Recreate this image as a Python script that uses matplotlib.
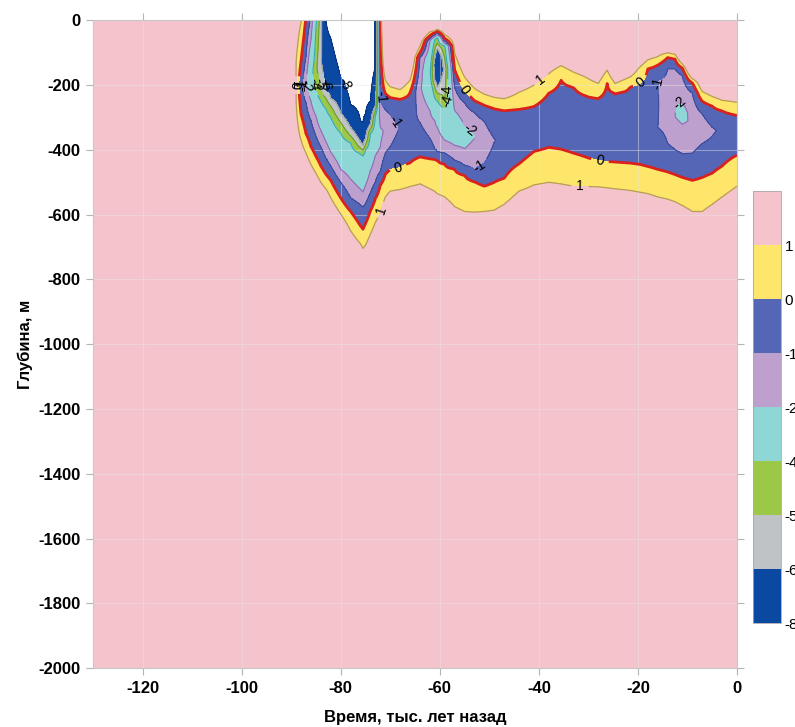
import numpy as np
import matplotlib.pyplot as plt

plt.rcParams['font.family'] = ['Liberation Sans', 'DejaVu Sans']
plt.rcParams['axes.unicode_minus'] = False

nan = np.nan

# расчётные колонки: время, тыс. лет назад
t_kyr = [-130, -90, -89, -88, -87, -86, -85, -84, -83, -82, -80, -78, -76, -75.5, -75, -74, -73,
         -72, -71, -70, -68, -66, -64, -62, -61, -60.5, -59, -57, -55, -53, -51, -49, -47, -44,
         -41, -38, -35.5, -33, -30, -28, -26.2, -24.6, -21.6, -18, -16, -14, -12.5, -11, -9,
         -7, -5, -3, 0]

# температура на поверхности, °C (2 = талые породы)
t_surf = [2, 2, 2, 1.05, -0.1, -1.2, -3.8, -5.6, -8.0, -9, -10, -10.5, -10.5, -10.5, -10.5, -10, -7.8,
          -0.3, 2, 2, 2, 2, 2, 2, 2, 2, 2, 2, 2, 2, 2, 2, 2, 2,
          2, 2, 2, 2, 2, 2, 2, 2, 2, 2, 2, 2, 2, 2, 2,
          2, 2, 2, 2]

# глубины (м) пересечения изотерм сверху вниз: верхняя граница мерзлоты
up_1 = [nan, nan, 130, nan, nan, nan, nan, nan, nan, nan, nan, nan, nan, nan, nan, nan, nan,
        nan, 185, 205, 214, 185, 80, 36, 32, 28, 45, 100, 175, 210, 228, 238, 242, 222,
        200, 165, 140, 160, 180, 195, 154, 195, 175, 122, 112, 100, 105, 135, 180,
        220, 235, 247, 253]
up_0 = [nan, nan, nan, 125, nan, nan, nan, nan, nan, nan, nan, nan, nan, nan, nan, nan, nan,
        nan, 225, 238, 243, 222, 100, 48, 38, 33, 57, 152, 218, 248, 262, 272, 278, 275,
        266, 225, 185, 207, 236, 241, 195, 226, 206, 150, 138, 115, 120, 147, 193,
        250, 265, 280, 293]
up_m1 = [nan, nan, nan, nan, 110, nan, nan, nan, nan, nan, nan, nan, nan, nan, nan, nan, nan,
         250, 275, 290, nan, nan, 115, 56, 44, 38, 63, 206, 254, 285, 312, nan, nan, nan,
         nan, nan, nan, nan, nan, nan, nan, nan, nan, nan, 185, 150, 150, 172, 225,
         290, nan, nan, nan]
up_m2 = [nan, nan, nan, nan, nan, 60, nan, nan, nan, nan, nan, nan, nan, nan, nan, nan, nan,
         nan, nan, nan, nan, nan, nan, 64, 50, 45, 72, 278, 324, nan, nan, nan, nan, nan,
         nan, nan, nan, nan, nan, nan, nan, nan, nan, nan, nan, nan, 185, nan, nan,
         nan, nan, nan, nan]
up_m4 = [nan, nan, nan, nan, nan, nan, 25, nan, nan, nan, nan, nan, nan, nan, nan, nan, nan,
         nan, nan, nan, nan, nan, nan, nan, 60, 52, 78, nan, nan, nan, nan, nan, nan, nan,
         nan, nan, nan, nan, nan, nan, nan, nan, nan, nan, nan, nan, nan, nan, nan,
         nan, nan, nan, nan]

# ядро мерзлоты: глубина и минимальная температура
core_d = [nan, nan, 190, 205, 200, 170, 150, 130, nan, nan, nan, nan, nan, nan, nan, nan, 150,
          350, 340, 340, 330, 320, 210, 160, 135, 120, 150, 330, 360, 355, 380, 370, 380, 360,
          330, 310, 300, 310, 330, 335, 320, 330, 320, 280, 255, 250, 240, 285, 310,
          335, 340, 340, 355]
core_t = [nan, nan, 0.7, -0.7, -2.05, -3.7, -4.8, -5.9, nan, nan, nan, nan, nan, nan, nan, nan, -7.9,
          -2.25, -1.9, -1.5, -0.95, -0.85, -1.85, -3.8, -6.6, -7.8, -5.8, -3.0, -2.45, -2.1, -1.65, -1.05,
          -0.8, -0.8, -0.8, -0.8, -0.8, -0.8, -0.8, -0.8, -0.8, -0.8, -0.8, -0.85, -0.95, -1.45, -1.95,
          -2.4, -1.9, -1.6, -1.15, -0.8, -0.75, -0.75]

# нижняя граница: глубины изотерм -8 ... 1
lo_m8 = [nan, nan, nan, nan, nan, nan, nan, nan, nan, 55, 175, 260, 310, 316, 290, 250, nan,
         nan, nan, nan, nan, nan, nan, nan, nan, nan, nan, nan, nan, nan, nan, nan, nan, nan,
         nan, nan, nan, nan, nan, nan, nan, nan, nan, nan, nan, nan, nan, nan, nan,
         nan, nan, nan, nan]
lo_m6 = [nan, nan, nan, nan, nan, nan, nan, nan, 220, 240, 285, 330, 375, 386, 365, 320, 265,
         nan, nan, nan, nan, nan, nan, nan, 185, 206, nan, nan, nan, nan, nan, nan, nan, nan,
         nan, nan, nan, nan, nan, nan, nan, nan, nan, nan, nan, nan, nan, nan, nan,
         nan, nan, nan, nan]
lo_m5 = [nan, nan, nan, nan, nan, nan, nan, 215, 240, 265, 315, 357, 395, 401, 385, 335, 280,
         nan, nan, nan, nan, nan, nan, nan, 205, 225, 245, nan, nan, nan, nan, nan, nan, nan,
         nan, nan, nan, nan, nan, nan, nan, nan, nan, nan, nan, nan, nan, nan, nan,
         nan, nan, nan, nan]
lo_m4 = [nan, nan, nan, nan, nan, nan, 220, 250, 273, 300, 348, 378, 412, 417, 400, 350, 295,
         nan, nan, nan, nan, nan, nan, nan, 240, 250, 275, nan, nan, nan, nan, nan, nan, nan,
         nan, nan, nan, nan, nan, nan, nan, nan, nan, nan, nan, nan, nan, nan, nan,
         nan, nan, nan, nan]
lo_m2 = [nan, nan, nan, nan, nan, 250, 295, 340, 374, 407, 460, 490, 522, 530, 510, 463, 417,
         390, nan, nan, nan, nan, nan, 278, 310, 330, 370, 386, 396, nan, nan, nan, nan, nan,
         nan, nan, nan, nan, nan, nan, nan, nan, nan, nan, nan, nan, 298, nan, nan,
         nan, nan, nan, nan]
lo_m1 = [nan, nan, nan, nan, 255, 310, 357, 390, 424, 450, 500, 548, 570, 576, 566, 533, 500,
         467, 410, 390, nan, nan, 315, 364, 398, 405, 410, 432, 448, 462, 440, nan, nan, nan,
         nan, nan, nan, nan, nan, nan, nan, nan, nan, nan, 330, 380, 400, 412, 410,
         380, nan, nan, nan]
lo_0 = [nan, nan, nan, 290, 350, 390, 420, 450, 475, 494, 548, 590, 635, 645, 628, 588, 550,
        509, 475, 460, 455, 440, 422, 427, 429, 432, 445, 460, 478, 498, 512, 500, 488, 443,
        405, 392, 398, 410, 425, 433, 436, 438, 441, 452, 460, 468, 476, 485, 494,
        485, 472, 450, 416]
lo_1 = [nan, nan, 250, 370, 410, 445, 472, 500, 520, 548, 598, 650, 690, 704, 694, 660, 624,
        592, 546, 527, 522, 513, 505, 520, 528, 535, 545, 575, 590, 592, 590, 586, 568, 527,
        508, 500, 505, 512, 513, 514, 517, 520, 525, 535, 545, 552, 560, 572, 590,
        590, 568, 545, 512]

levels = [-8, -6, -5, -4, -2, -1, 0, 1, 100]
cbar_ticks = [-8, -6, -5, -4, -2, -1, 0, 1]
fill_colors = ['#0b48a2', '#bfc2c6', '#9cc84a', '#8fd7d7', '#bea0cf', '#5466b5', '#fde66a', '#f5c3cb']
line_colors = ['#0a3580', '#9a9da0', '#6f9d2c', '#38a8a8', '#8c6fb5', '#3c4c9c', '#d9211e', '#b8a04a']
line_widths = [0.8, 0.8, 0.8, 0.8, 0.8, 0.8, 2.0, 0.9]

depth = np.arange(0, 2001, 5.0)


def column(i):
    knots = []
    crossings = [(up_1, 1), (up_0, 0), (up_m1, -1), (up_m2, -2), (up_m4, -4),
                 (lo_m8, -8), (lo_m6, -6), (lo_m5, -5), (lo_m4, -4),
                 (lo_m2, -2), (lo_m1, -1), (lo_0, 0), (lo_1, 1)]
    for arr, val in crossings:
        if not np.isnan(arr[i]):
            knots.append((arr[i], val))
    if not np.isnan(core_d[i]):
        knots.append((core_d[i], core_t[i]))
    if not knots:
        return np.full_like(depth, 20.0)
    knots.sort()
    if t_surf[i] < 2:
        knots.insert(0, (0.0, t_surf[i]))
    else:
        # талый слой у поверхности: продолжаем градиент верхней изотермы
        (d0, v0), (d1, v1) = knots[0], knots[1]
        knots.insert(0, (0.0, v0 + (v0 - v1) / (d1 - d0) * d0))
    (d0, v0), (d1, v1) = knots[-2], knots[-1]
    knots.append((2000.0, v1 + (v1 - v0) / (d1 - d0) * (2000.0 - d1)))
    d, v = zip(*knots)
    return np.clip(np.interp(depth, d, v), -20, 30)


temp = np.column_stack([column(i) for i in range(len(t_kyr))])

fig = plt.figure(figsize=(7.95, 7.27), dpi=100)
ax = fig.add_axes([0.117, 0.081, 0.810, 0.891])
ax.set_facecolor('white')

cf = ax.contourf(t_kyr, -depth, temp, levels=levels, colors=fill_colors)
cl = ax.contour(t_kyr, -depth, temp, levels=levels[:-1], colors=line_colors,
                linewidths=line_widths)

label_pos = [(-88.9, -200), (-88.2, -200), (-87.5, -200), (-86.8, -200), (-85.8, -200),
             (-84.6, -200), (-83.9, -200), (-80.0, -200),
             (-71.8, -237), (-68.6, -308), (-68.4, -454), (-71.7, -586),
             (-58.3, -216), (-58.3, -247), (-55.3, -216), (-53.9, -340), (-52.5, -442),
             (-39.4, -185), (-27.7, -437), (-31.7, -509),
             (-19.2, -195), (-16.5, -195), (-11.9, -237)]
ax.clabel(cl, fmt='%g', manual=label_pos, fontsize=10, inline=True, colors='k')

ax.set_xlim(-130, 0)
ax.set_ylim(-2000, 0)
ax.set_xticks(np.arange(-120, 1, 20))
ax.set_yticks(np.arange(-2000, 1, 200))
ax.grid(True, color='#e6e6e6', alpha=0.45, linewidth=0.8)
ax.tick_params(direction='out', length=5, color='#b4b4b4', top=True, right=True,
               labelsize=12, pad=4)
plt.setp(ax.get_xticklabels(), fontweight='bold')
plt.setp(ax.get_yticklabels(), fontweight='bold')
for sp in ax.spines.values():
    sp.set_color('#c8c8c8')
    sp.set_linewidth(0.8)

ax.set_xlabel('Время, тыс. лет назад', fontsize=12, fontweight='bold', labelpad=10)
ax.set_ylabel('Глубина, м', fontsize=12, fontweight='bold', labelpad=4)

cax = fig.add_axes([0.947, 0.143, 0.035, 0.594])
cb = fig.colorbar(cf, cax=cax, spacing='uniform', ticks=cbar_ticks)
cb.ax.tick_params(length=0, labelsize=11, pad=3)
cb.outline.set_edgecolor('#a8a8a8')
cb.outline.set_linewidth(0.6)

fig.savefig('out.png', dpi=100)
